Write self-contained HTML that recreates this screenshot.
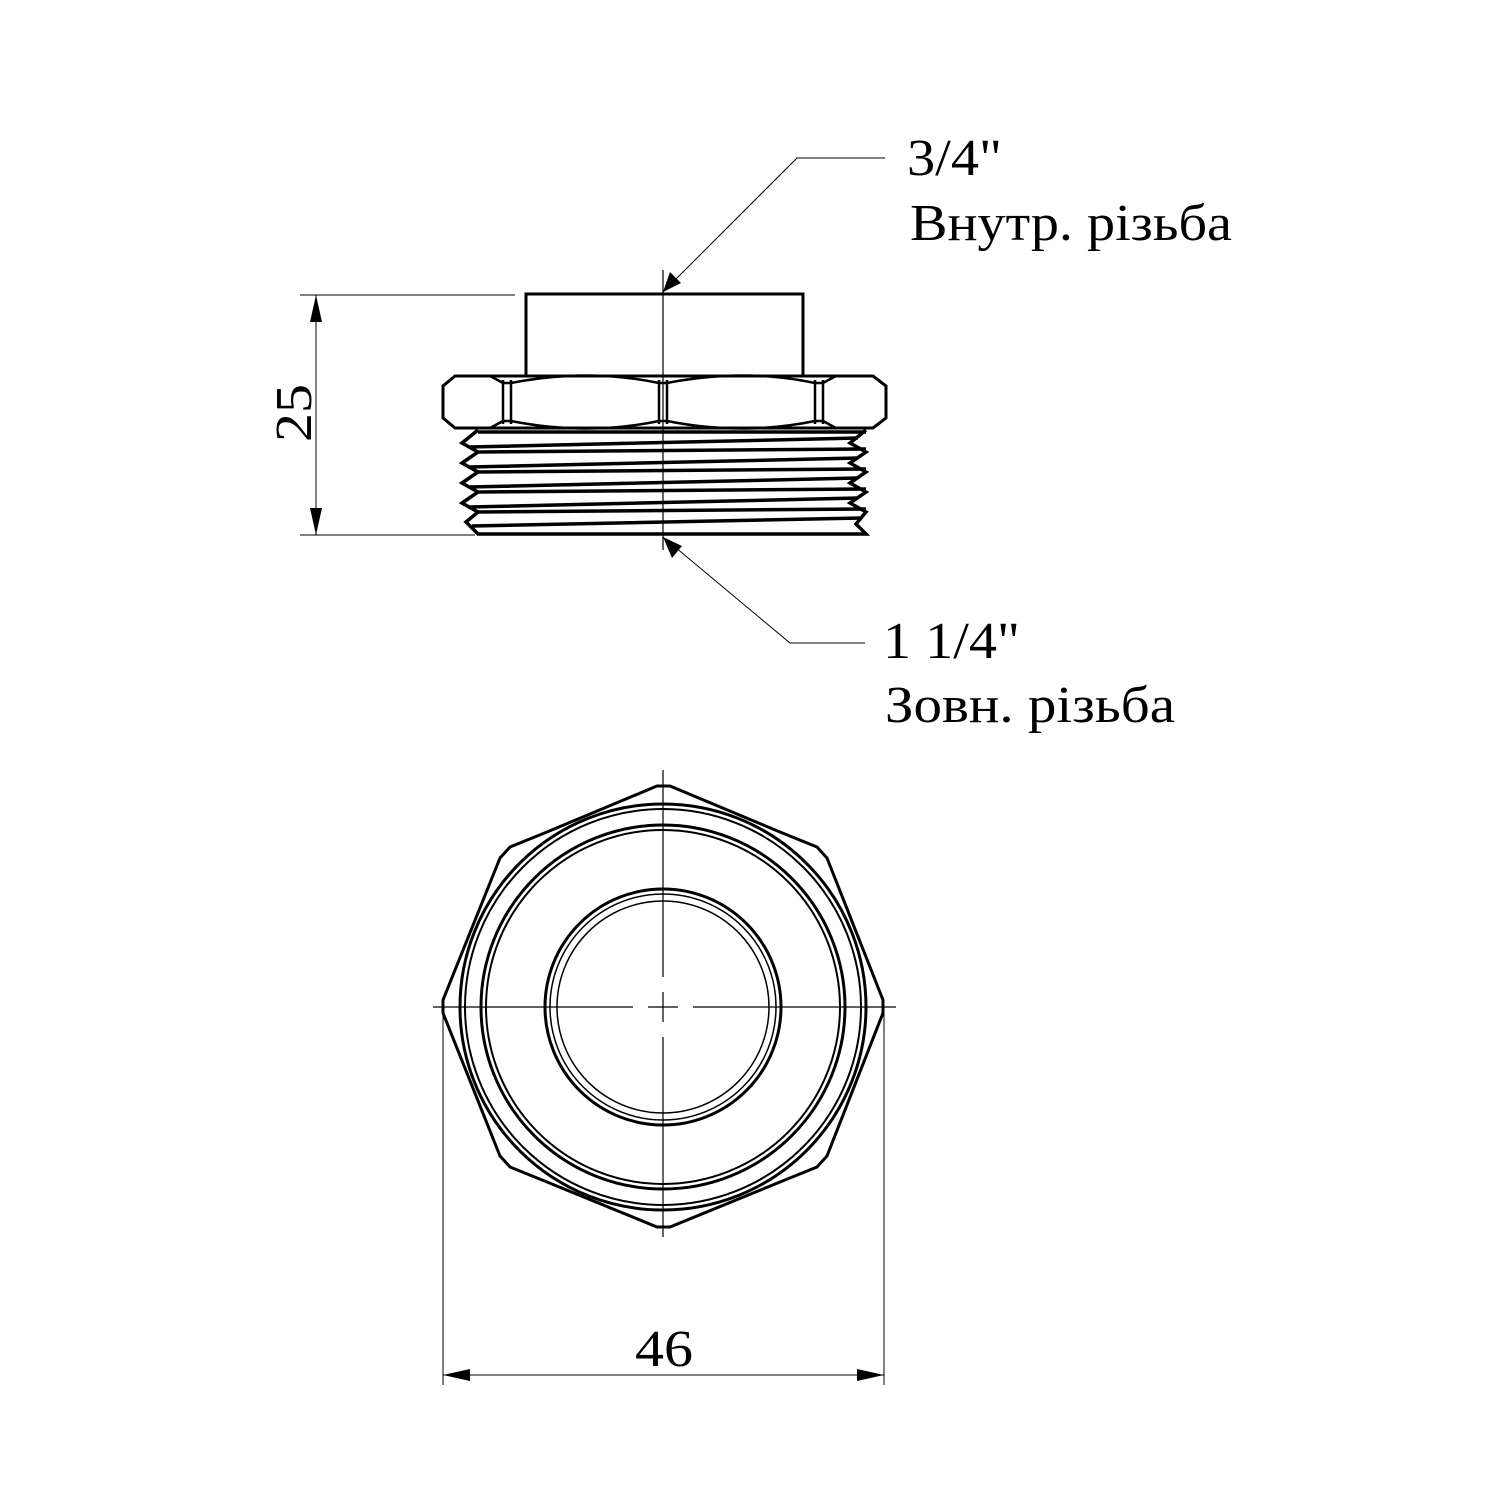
<!DOCTYPE html>
<html><head><meta charset="utf-8"><style>
html,body{margin:0;padding:0;background:#fff}
svg{display:block}
text{font-family:"Liberation Serif","Times New Roman",Times,serif;fill:#000}
</style></head><body>
<svg width="1500" height="1500" viewBox="0 0 1500 1500" xmlns="http://www.w3.org/2000/svg">
<rect width="1500" height="1500" fill="#fff"/>
<g fill="none" stroke="#000">
<line x1="663" y1="270" x2="663" y2="550" stroke-width="1.2"/>
<rect x="526" y="294" width="277" height="82" stroke-width="3"/>
<path d="M455,376 L873,376 L886,386 L886,418 L873,428 L455,428 L443,418 L443,386 Z" stroke-width="3"/>
<path d="M503,380 L503,424 M511,380 L511,424 M659,380 L659,424 M667,380 L667,424 M815,380 L815,424 M823,380 L823,424" stroke-width="2.5"/>
<path d="M490,376 L503,383 L511,383 Q587,368 659,383 L667,383 Q743,368 815,383 L823,383 L836,376" stroke-width="2.5"/>
<path d="M490,428 L503,421 L511,421 Q587,436 659,421 L667,421 Q743,436 815,421 L823,421 L836,428" stroke-width="2.5"/>
<path d="M478,430 L462,443 L478,452 L462,463 L478,472 L462,483 L478,492 L462,503 L478,512 L466,522 L478,534 L866,534 L856,524 L866,512 L850,503 L866,492 L850,483 L866,472 L850,463 L866,452 L850,443 L866,430" stroke-width="3.5"/>
<path d="M478,432 L866,432 M470,447 L858,438 M478,452 L866,449 M470,467 L858,458 M478,472 L866,469 M470,487 L858,478 M478,492 L866,489 M470,507 L858,498 M478,512 L866,509 M472,526 L862,518" stroke-width="3.5"/>
<polyline points="663,292 797,158 885,158" stroke-width="1"/>
<polyline points="663,537 790,643 865,643" stroke-width="1"/>
<line x1="300" y1="295" x2="515" y2="295" stroke-width="1"/>
<line x1="300" y1="535" x2="475" y2="535" stroke-width="1"/>
<line x1="316" y1="295" x2="316" y2="535" stroke-width="1"/>
<polygon points="657,786 670,786 780,832 817,847 827,858 883,1000 883,1013 827,1156 817,1167 780,1182 670,1227 657,1227 547,1182 510,1167 500,1156 443,1013 443,1000 500,858 510,847 547,832" stroke-width="3"/>
<circle cx="663" cy="1007" r="203" stroke-width="3"/>
<circle cx="663" cy="1007" r="198" stroke-width="2"/>
<circle cx="663" cy="1007" r="182" stroke-width="3"/>
<circle cx="663" cy="1007" r="177" stroke-width="2"/>
<circle cx="663" cy="1007" r="118" stroke-width="3"/>
<circle cx="663" cy="1007" r="113" stroke-width="1.5"/>
<circle cx="663" cy="1007" r="106" stroke-width="1.5"/>
<path d="M663,770 L663,977 M663,992 L663,1022 M663,1037 L663,1237 M433,1007 L633,1007 M648,1007 L678,1007 M693,1007 L896,1007" stroke-width="1.2"/>
<line x1="443" y1="1013" x2="443" y2="1385" stroke-width="1"/>
<line x1="884" y1="1013" x2="884" y2="1385" stroke-width="1"/>
<line x1="443" y1="1375" x2="884" y2="1375" stroke-width="1"/>
</g>
<g fill="#000">
<polygon points="663,292 670,272 681,283"/>
<polygon points="663,537 682,546 672,558"/>
<polygon points="316,295 310,322 322,322"/>
<polygon points="316,535 310,508 322,508"/>
<polygon points="443,1375 470,1369 470,1381"/>
<polygon points="884,1375 857,1369 857,1381"/>
</g>
<g font-family="Liberation Serif, Times New Roman, serif">
<text x="907" y="175" font-size="52" textLength="95" lengthAdjust="spacingAndGlyphs">3/4"</text>
<text x="910" y="240" font-size="52" textLength="322" lengthAdjust="spacingAndGlyphs">Внутр. різьба</text>
<text x="883" y="658" font-size="52" textLength="137" lengthAdjust="spacingAndGlyphs">1 1/4"</text>
<text x="885" y="722" font-size="52" textLength="290" lengthAdjust="spacingAndGlyphs">Зовн. різьба</text>
<text x="0" y="0" font-size="52" transform="translate(311,442) rotate(-90)" textLength="58" lengthAdjust="spacingAndGlyphs">25</text>
<text x="635" y="1366" font-size="52" textLength="58" lengthAdjust="spacingAndGlyphs">46</text>
</g>
</svg>
</body></html>
